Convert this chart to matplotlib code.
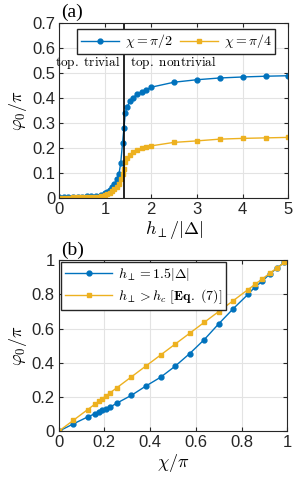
import matplotlib
matplotlib.use("Agg")
import matplotlib.pyplot as plt

# panel (a): phi_0/pi vs h_perp/|Delta|
h_a = [0, 0.1, 0.2, 0.3, 0.4, 0.5, 0.6, 0.7, 0.8, 0.9, 1.0, 1.05, 1.1, 1.15,
       1.2, 1.25, 1.3, 1.34, 1.38, 1.41, 1.44, 1.48, 1.54, 1.6, 1.7, 1.8,
       1.9, 2.0, 2.5, 3.0, 3.5, 4.0, 4.5, 5.0]
phi_half = [0.005, 0.005, 0.005, 0.006, 0.006, 0.007, 0.008, 0.009, 0.011,
            0.014, 0.02, 0.026, 0.034, 0.045, 0.058, 0.075, 0.095, 0.14,
            0.22, 0.28, 0.34, 0.365, 0.387, 0.40, 0.415, 0.425, 0.433, 0.443,
            0.463, 0.473, 0.48, 0.484, 0.487, 0.489]
phi_quarter = [0.003, 0.003, 0.003, 0.004, 0.004, 0.004, 0.005, 0.006, 0.007,
               0.009, 0.012, 0.016, 0.021, 0.028, 0.036, 0.046, 0.058, 0.075,
               0.098, 0.118, 0.145, 0.162, 0.172, 0.183, 0.191, 0.199, 0.204,
               0.209, 0.223, 0.229, 0.236, 0.239, 0.241, 0.243]
h_crit = 1.414

# panel (b): phi_0/pi vs chi/pi
chi_b = [0, 0.064, 0.127, 0.159, 0.175, 0.191, 0.207, 0.223, 0.255, 0.318,
         0.382, 0.446, 0.509, 0.573, 0.637, 0.700, 0.764, 0.828, 0.859, 0.891,
         0.923, 0.955, 0.987, 1.0]
phi_h15 = [0, 0.043, 0.084, 0.103, 0.113, 0.122, 0.132, 0.14, 0.165, 0.21,
           0.265, 0.316, 0.38, 0.454, 0.536, 0.628, 0.717, 0.8, 0.844, 0.877,
           0.92, 0.953, 0.988, 1.0]
phi_eq7 = [0, 0.064, 0.127, 0.159, 0.175, 0.191, 0.207, 0.223, 0.255, 0.318,
           0.382, 0.446, 0.509, 0.573, 0.637, 0.700, 0.764, 0.828, 0.859, 0.891,
           0.923, 0.955, 0.987, 1.0]

blue = "#0072BD"
yellow = "#EDB120"

plt.rcParams["font.family"] = ["Liberation Sans", "DejaVu Sans"]
plt.rcParams["mathtext.fontset"] = "cm"

fig = plt.figure(figsize=(2.93, 4.86), dpi=100)
ax1 = fig.add_axes([0.2024, 0.592, 0.782, 0.361])
ax2 = fig.add_axes([0.2003, 0.1126, 0.780, 0.3519])


def style(ax):
    ax.grid(True, color="#e3e3e3", linewidth=0.8)
    ax.set_axisbelow(True)
    ax.tick_params(direction="in", length=3, labelsize=12, top=True,
                   right=True, colors="#262626", pad=3)
    for s in ax.spines.values():
        s.set_color("#262626")
        s.set_linewidth(0.8)


ax1.plot(h_a, phi_half, "-o", color=blue, ms=3.5, lw=1.0,
         label=r"$\chi=\pi/2$")
ax1.plot(h_a, phi_quarter, "-s", color=yellow, ms=3.5, lw=1.0,
         label=r"$\chi=\pi/4$")
ax1.axvline(h_crit, color="black", lw=1.2)
ax1.set_xlim(0, 5)
ax1.set_ylim(0, 0.7)
ax1.set_xticks([0, 1, 2, 3, 4, 5])
ax1.set_yticks([0, 0.1, 0.2, 0.3, 0.4, 0.5, 0.6, 0.7])
ax1.set_yticklabels(["0", "0.1", "0.2", "0.3", "0.4", "0.5", "0.6", "0.7"])
style(ax1)
ax1.set_xlabel(r"$h_\perp/|\Delta|$", fontsize=13, labelpad=1)
ax1.set_ylabel(r"$\varphi_0/\pi$", fontsize=13, labelpad=2)
ax1.legend(loc="upper center", ncol=2, fontsize=10, frameon=True,
           fancybox=False, edgecolor="#262626", framealpha=1,
           borderpad=0.25, handlelength=2.8, columnspacing=0.5,
           handletextpad=0.4, borderaxespad=0, bbox_to_anchor=(0.51, 0.965))
ax1.text(1.33, 0.54, r"$\mathrm{top.\ trivial}$", fontsize=9.5,
         ha="right", va="center")
ax1.text(1.54, 0.54, r"$\mathrm{top.\ nontrivial}$", fontsize=9.5,
         ha="left", va="center")
ax1.text(0.01, 1.01, "(a)", transform=ax1.transAxes, fontsize=14,
         family="Liberation Serif", ha="left", va="bottom")

ax2.plot(chi_b, phi_h15, "-o", color=blue, ms=3.5, lw=1.0,
         label=r"$h_\perp=1.5|\Delta|$")
ax2.plot(chi_b, phi_eq7, "-s", color=yellow, ms=3.5, lw=1.0,
         label=r"$h_\perp>h_c\ [\mathbf{Eq.\ (7)}]$")
ax2.set_xlim(0, 1)
ax2.set_ylim(0, 1)
ax2.set_xticks([0, 0.2, 0.4, 0.6, 0.8, 1])
ax2.set_xticklabels(["0", "0.2", "0.4", "0.6", "0.8", "1"])
ax2.set_yticks([0, 0.2, 0.4, 0.6, 0.8, 1])
ax2.set_yticklabels(["0", "0.2", "0.4", "0.6", "0.8", "1"])
style(ax2)
ax2.set_xlabel(r"$\chi/\pi$", fontsize=13, labelpad=1)
ax2.set_ylabel(r"$\varphi_0/\pi$", fontsize=13, labelpad=2)
ax2.legend(loc="upper left", fontsize=10, frameon=True, fancybox=False,
           edgecolor="#262626", framealpha=1, borderpad=0.3,
           handlelength=3.4, handletextpad=0.4, labelspacing=0.3,
           borderaxespad=0, bbox_to_anchor=(0.01, 0.99))
ax2.text(0.01, 1.01, "(b)", transform=ax2.transAxes, fontsize=14,
         family="Liberation Serif", ha="left", va="bottom")

fig.savefig("out.png", dpi=100)
